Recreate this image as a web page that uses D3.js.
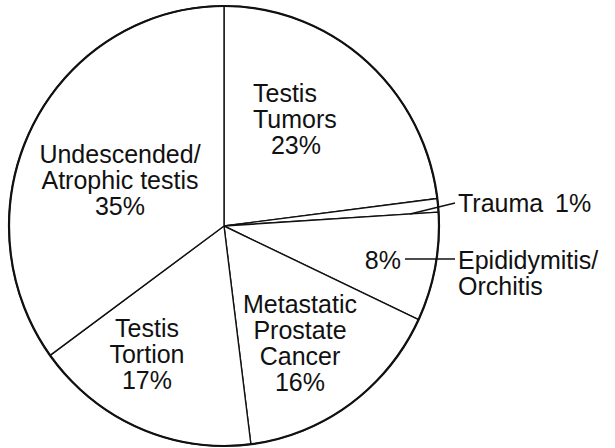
<!DOCTYPE html>
<html>
<head>
<meta charset="utf-8">
<script src="https://cdn.jsdelivr.net/npm/d3@7"></script>
<style>
  html, body { margin: 0; padding: 0; background: #fff; }
  svg { display: block; }
  text { font-family: "Liberation Sans", Arial, sans-serif; fill: #111; }
</style>
</head>
<body>
<svg id="chart" width="615" height="448"></svg>
<script>
// Causes, clockwise from 12 o'clock
const categories = [
  "Testis Tumors",
  "Trauma",
  "Epididymitis/Orchitis",
  "Metastatic Prostate Cancer",
  "Testis Tortion",
  "Undescended/Atrophic testis"
];
const percents = [23, 1, 8, 16, 17, 35];

// Text lines shown for each slice (the percentage is appended from the data)
const labelLines = [
  ["Testis", "Tumors"],
  ["Trauma"],
  ["Epididymitis/", "Orchitis"],
  ["Metastatic", "Prostate", "Cancer"],
  ["Testis", "Tortion"],
  ["Undescended/", "Atrophic testis"]
];

const svg = d3.select("#chart");
const cx = 224, cy = 226, rx = 215, ry = 220;
const fontSize = 25, lineH = 26;

const pie = d3.pie().sort(null).value(d => d.v);
const arcs = pie(categories.map((c, i) => ({ c, v: percents[i], i })));

// The disc is drawn on a unit radius, then stretched slightly taller than wide
const disc = svg.append("g")
  .attr("transform", `translate(${cx},${cy}) scale(${rx},${ry})`);
const arc = d3.arc().innerRadius(0).outerRadius(1);

disc.selectAll("path.slice")
  .data(arcs)
  .join("path")
  .attr("class", "slice")
  .attr("d", arc)
  .attr("fill", "#fff")
  .attr("stroke", "#111")
  .attr("stroke-width", 1.4)
  .attr("stroke-linejoin", "round")
  .attr("vector-effect", "non-scaling-stroke");

disc.append("ellipse")
  .attr("rx", 1).attr("ry", 1)
  .attr("fill", "none")
  .attr("stroke", "#111")
  .attr("stroke-width", 2.2)
  .attr("vector-effect", "non-scaling-stroke");

// Label placement: anchor x and first baseline for each slice's text block;
// pctX / pctAnchor position the percentage line when it differs
const place = {
  "Testis Tumors":               { x: 253, y: 102, anchor: "start", pctX: 296, pctAnchor: "middle" },
  "Undescended/Atrophic testis": { x: 120, y: 163, anchor: "middle" },
  "Testis Tortion":              { x: 147, y: 337, anchor: "middle" },
  "Metastatic Prostate Cancer":  { x: 300, y: 313, anchor: "middle" },
  "Epididymitis/Orchitis":       { x: 458, y: 269, anchor: "start" },
  "Trauma":                      { x: 458, y: 212, anchor: "start" }
};

const pct = v => v + "%";

arcs.forEach(a => {
  const name = a.data.c;
  const p = place[name];
  const lines = labelLines[a.data.i];
  const inside = name !== "Trauma" && name !== "Epididymitis/Orchitis";
  lines.forEach((ln, k) => {
    svg.append("text")
      .attr("font-size", fontSize)
      .attr("text-anchor", p.anchor)
      .attr("x", p.x).attr("y", p.y + k * lineH)
      .text(ln);
  });
  if (inside) {
    svg.append("text")
      .attr("font-size", fontSize)
      .attr("text-anchor", p.pctAnchor || p.anchor)
      .attr("x", p.pctX !== undefined ? p.pctX : p.x)
      .attr("y", p.y + lines.length * lineH)
      .text(pct(a.data.v));
  }
});

// Trauma: value beside the name, leader line into the thin slice
const trauma = arcs[1];
svg.append("text")
  .attr("font-size", fontSize)
  .attr("x", 555).attr("y", 212)
  .text(pct(trauma.data.v));
svg.append("line")
  .attr("x1", 410).attr("y1", 214)
  .attr("x2", 455).attr("y2", 203)
  .attr("stroke", "#111").attr("stroke-width", 1.4);

// Epididymitis/Orchitis: value inside the slice, leader line out to the name
const epi = arcs[2];
svg.append("text")
  .attr("font-size", fontSize)
  .attr("text-anchor", "end")
  .attr("x", 401).attr("y", 269)
  .text(pct(epi.data.v));
svg.append("line")
  .attr("x1", 405).attr("y1", 259)
  .attr("x2", 455).attr("y2", 259)
  .attr("stroke", "#111").attr("stroke-width", 1.4);
</script>
</body>
</html>
